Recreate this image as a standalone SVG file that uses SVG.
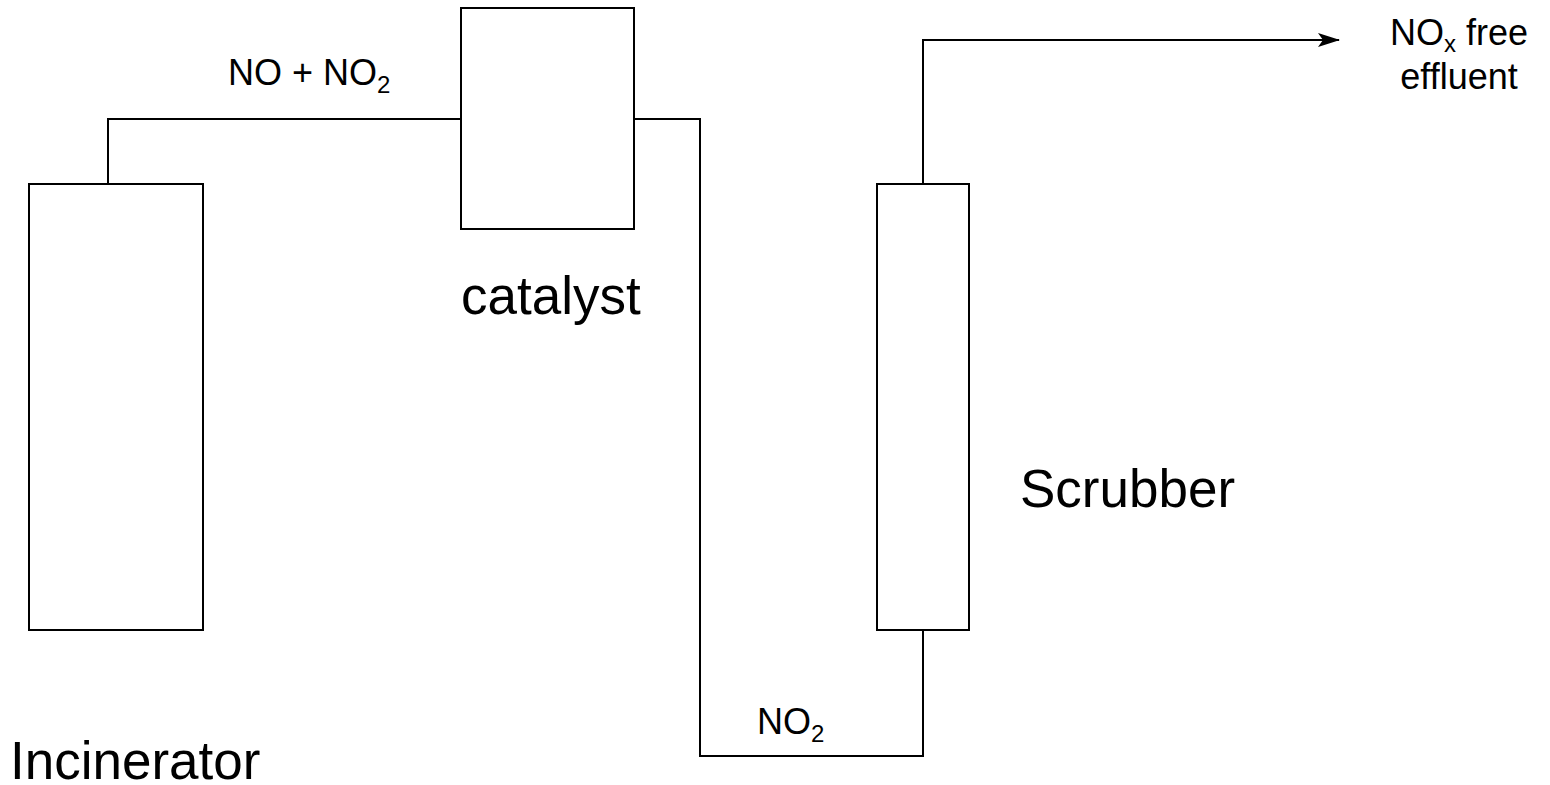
<svg xmlns="http://www.w3.org/2000/svg" width="1550" height="785" viewBox="0 0 1550 785">
<style>
.box{fill:#fff;stroke:#000;stroke-width:2}
.ln{fill:none;stroke:#000;stroke-width:2}
text{font-family:"Liberation Sans",Arial,sans-serif;fill:#000}
.big{font-size:53px}
.sm{font-size:36px}
</style>
<defs>
<marker id="arr" markerWidth="22" markerHeight="16" refX="21" refY="8" orient="auto" markerUnits="userSpaceOnUse">
<path d="M0,1 L22,8 L0,15 L5,8 Z" fill="#000"/>
</marker>
</defs>
<g id="connectors">
<polyline class="ln" points="108,184 108,119 461,119"/>
<polyline class="ln" points="634,119 700,119 700,756 923,756 923,630"/>
<polyline class="ln" points="923,184 923,40 1339,40" marker-end="url(#arr)"/>
</g>
<g id="incinerator">
<rect class="box" x="29" y="184" width="174" height="446"/>
<text class="big" x="10" y="779">Incinerator</text>
</g>
<g id="catalyst">
<rect class="box" x="461" y="8" width="173" height="221"/>
<text class="big" x="461" y="314">catalyst</text>
</g>
<g id="scrubber">
<rect class="box" x="877" y="184" width="92" height="446"/>
<text class="big" x="1020" y="507">Scrubber</text>
</g>
<g id="labels">
<text class="sm" x="228" y="85">NO + NO<tspan font-size="24" dy="8">2</tspan></text>
<text class="sm" x="757" y="734">NO<tspan font-size="24" dy="8">2</tspan></text>
<text class="sm" x="1459" y="45" text-anchor="middle">NO<tspan font-size="24" dy="7">x</tspan><tspan dy="-7"> free</tspan></text>
<text class="sm" x="1459" y="89" text-anchor="middle">effluent</text>
</g>
</svg>
